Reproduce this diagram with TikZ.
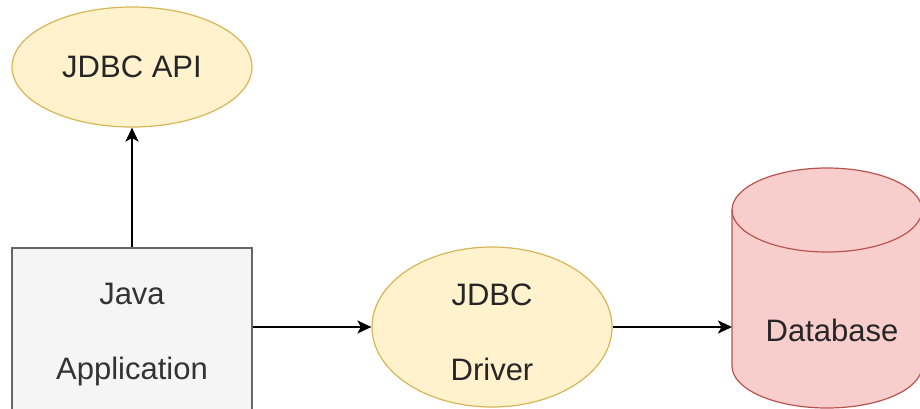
\documentclass[tikz,border=0pt]{standalone}
\usepackage{fontspec}
\setmainfont{Liberation Sans}
\usetikzlibrary{arrows.meta,shapes.geometric}
\definecolor{yfill}{HTML}{FFF2CC}
\definecolor{ydraw}{HTML}{D6B656}
\definecolor{rfill}{HTML}{F8CECC}
\definecolor{rdraw}{HTML}{B85450}
\definecolor{gfill}{HTML}{F5F5F5}
\definecolor{gdraw}{HTML}{666666}
\definecolor{gtext}{HTML}{333333}
\newcommand{\upstrut}{\rule{0pt}{33pt}}
\tikzset{
  txt/.style={font=\fontsize{31}{75}\selectfont, align=center, text=black!85},
  yell/.style={txt, ellipse, draw=ydraw, fill=yfill, line width=1.2pt, inner sep=0pt},
  greybox/.style={txt, rectangle, draw=gdraw, fill=gfill, line width=1.2pt, inner sep=0pt, text=gtext},
  conn/.style={line width=1.8pt, draw=black, -{Stealth[length=14pt,width=13pt,inset=3.5pt]}},
}
\begin{document}
\begin{tikzpicture}[x=1pt,y=1pt]
\useasboundingbox (0,0) rectangle (920,-408);
\fill[white] (0,0) rectangle (920,-408);
% cylinder
\begin{scope}
\clip (0,0) rectangle (920,-408);
\path[fill=rfill, draw=rdraw, line width=1.2pt]
  (732,-210) -- (732,-366)
  arc[start angle=180, end angle=360, x radius=95, y radius=42]
  -- (922,-210)
  arc[start angle=0, end angle=180, x radius=95, y radius=42] -- cycle;
\draw[rdraw, line width=1.2pt] (732,-210)
  arc[start angle=180, end angle=360, x radius=95, y radius=42];
\end{scope}
\coordinate (cylleft) at (732,-327);
\node[txt] (db) at (832,-330) {Database};
% nodes
\node[yell, minimum width=240, minimum height=120] (api) at (132,-67) {JDBC API};
\node[greybox, minimum width=240, minimum height=162] (app) at (132,-329) {\upstrut Java\\Application};
\node[yell, minimum width=240, minimum height=160] (drv) at (492,-327) {\upstrut JDBC\\Driver};
% connectors
\draw[conn] (app.north) -- (api.south);
\draw[conn] (app.east |- drv.west) -- (drv.west);
\draw[conn] (drv.east) -- (drv.east -| cylleft);
\end{tikzpicture}
\end{document}
